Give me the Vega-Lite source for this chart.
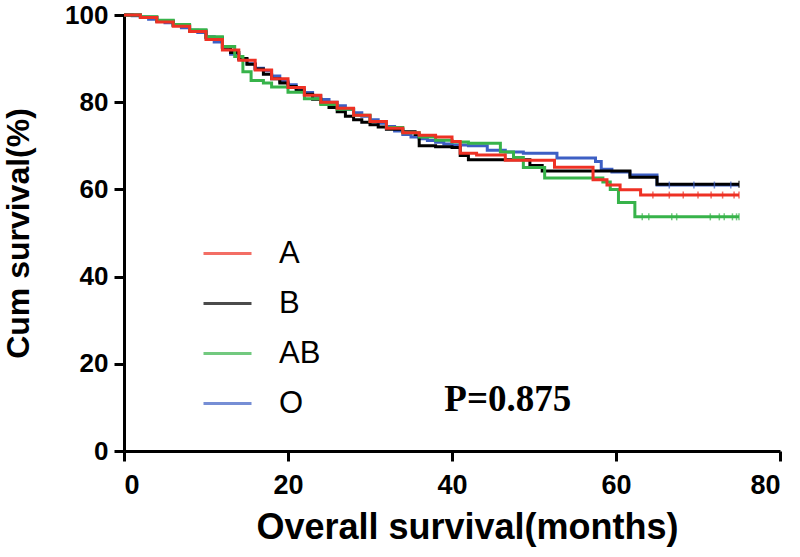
{
  "$schema": "https://vega.github.io/schema/vega-lite/v6.json",
  "autosize": "none",
  "width": 656,
  "height": 436,
  "padding": {"left": 124, "top": 15, "right": 20, "bottom": 106},
  "background": "white",
  "config": {"view": {"stroke": null}, "font": "Liberation Sans"},
  "datasets": {
    "curves": [
      {"g": "O", "m": 0, "s": 100}, {"g": "O", "m": 1, "s": 99.8}, {"g": "O", "m": 2, "s": 99.5}, {"g": "O", "m": 3, "s": 99}, {"g": "O", "m": 4, "s": 98.6}, {"g": "O", "m": 5, "s": 98.2}, {"g": "O", "m": 6, "s": 97.7}, {"g": "O", "m": 7, "s": 97.1}, {"g": "O", "m": 8, "s": 96.5}, {"g": "O", "m": 9, "s": 96}, {"g": "O", "m": 10, "s": 95}, {"g": "O", "m": 11, "s": 93.8}, {"g": "O", "m": 12, "s": 92.5}, {"g": "O", "m": 13, "s": 91}, {"g": "O", "m": 14, "s": 89.8}, {"g": "O", "m": 15, "s": 88.8}, {"g": "O", "m": 16, "s": 87.8}, {"g": "O", "m": 17, "s": 87.2}, {"g": "O", "m": 18, "s": 86}, {"g": "O", "m": 19, "s": 84.8}, {"g": "O", "m": 20, "s": 84}, {"g": "O", "m": 21, "s": 83}, {"g": "O", "m": 22, "s": 82.2}, {"g": "O", "m": 23, "s": 81.4}, {"g": "O", "m": 24, "s": 80.6}, {"g": "O", "m": 25, "s": 80}, {"g": "O", "m": 26, "s": 79.2}, {"g": "O", "m": 27, "s": 78.4}, {"g": "O", "m": 28, "s": 77.6}, {"g": "O", "m": 29, "s": 76.8}, {"g": "O", "m": 30, "s": 76}, {"g": "O", "m": 31, "s": 75.2}, {"g": "O", "m": 32, "s": 74.4}, {"g": "O", "m": 33, "s": 73.4}, {"g": "O", "m": 34, "s": 72.6}, {"g": "O", "m": 35, "s": 72}, {"g": "O", "m": 36, "s": 71.6}, {"g": "O", "m": 37, "s": 71.2}, {"g": "O", "m": 38, "s": 70.8}, {"g": "O", "m": 39, "s": 70.4}, {"g": "O", "m": 40, "s": 70.2}, {"g": "O", "m": 42, "s": 70}, {"g": "O", "m": 44.3, "s": 69}, {"g": "O", "m": 46.5, "s": 68.6}, {"g": "O", "m": 48.7, "s": 68.3}, {"g": "O", "m": 52.8, "s": 67.2}, {"g": "O", "m": 57.5, "s": 66.4}, {"g": "O", "m": 58.2, "s": 64.6}, {"g": "O", "m": 59.5, "s": 64}, {"g": "O", "m": 61.7, "s": 63.3}, {"g": "O", "m": 65, "s": 61}, {"g": "O", "m": 75, "s": 61},

      {"g": "B", "m": 0, "s": 100}, {"g": "B", "m": 2, "s": 99.5}, {"g": "B", "m": 4, "s": 98.6}, {"g": "B", "m": 6, "s": 97.6}, {"g": "B", "m": 8, "s": 96.4}, {"g": "B", "m": 10, "s": 94.8}, {"g": "B", "m": 12, "s": 92.6}, {"g": "B", "m": 13, "s": 91.4}, {"g": "B", "m": 14, "s": 90}, {"g": "B", "m": 15, "s": 88.7}, {"g": "B", "m": 16, "s": 87.6}, {"g": "B", "m": 17, "s": 86.4}, {"g": "B", "m": 18, "s": 85.4}, {"g": "B", "m": 19, "s": 84.4}, {"g": "B", "m": 20, "s": 83.6}, {"g": "B", "m": 21, "s": 82.6}, {"g": "B", "m": 22, "s": 81.8}, {"g": "B", "m": 23, "s": 80.7}, {"g": "B", "m": 24, "s": 79.8}, {"g": "B", "m": 25, "s": 78.8}, {"g": "B", "m": 26, "s": 77.8}, {"g": "B", "m": 27, "s": 76.8}, {"g": "B", "m": 28, "s": 76}, {"g": "B", "m": 29, "s": 75.4}, {"g": "B", "m": 30, "s": 74.8}, {"g": "B", "m": 31, "s": 74.3}, {"g": "B", "m": 32, "s": 73.8}, {"g": "B", "m": 34, "s": 73.2}, {"g": "B", "m": 35.5, "s": 72.6}, {"g": "B", "m": 36, "s": 70}, {"g": "B", "m": 38, "s": 69.8}, {"g": "B", "m": 40, "s": 69.6}, {"g": "B", "m": 41, "s": 67.8}, {"g": "B", "m": 42, "s": 66.8}, {"g": "B", "m": 49.5, "s": 65.5}, {"g": "B", "m": 51, "s": 64.2}, {"g": "B", "m": 61.7, "s": 62.8}, {"g": "B", "m": 65, "s": 61.2}, {"g": "B", "m": 75, "s": 61.2},

      {"g": "AB", "m": 0, "s": 100}, {"g": "AB", "m": 2, "s": 99.6}, {"g": "AB", "m": 4, "s": 98.8}, {"g": "AB", "m": 6, "s": 97.8}, {"g": "AB", "m": 8, "s": 96.6}, {"g": "AB", "m": 10, "s": 95}, {"g": "AB", "m": 12, "s": 92.8}, {"g": "AB", "m": 13.5, "s": 90.5}, {"g": "AB", "m": 14.5, "s": 87}, {"g": "AB", "m": 15.5, "s": 85}, {"g": "AB", "m": 17, "s": 84.4}, {"g": "AB", "m": 18, "s": 83.5}, {"g": "AB", "m": 20, "s": 82.3}, {"g": "AB", "m": 22, "s": 80.8}, {"g": "AB", "m": 24, "s": 79.5}, {"g": "AB", "m": 26, "s": 78.4}, {"g": "AB", "m": 28, "s": 77}, {"g": "AB", "m": 30, "s": 75.6}, {"g": "AB", "m": 32, "s": 74.2}, {"g": "AB", "m": 34, "s": 73}, {"g": "AB", "m": 36, "s": 72}, {"g": "AB", "m": 38, "s": 71.3}, {"g": "AB", "m": 40, "s": 70.9}, {"g": "AB", "m": 42, "s": 70.6}, {"g": "AB", "m": 45.9, "s": 68.6}, {"g": "AB", "m": 47.5, "s": 67.3}, {"g": "AB", "m": 48.7, "s": 65}, {"g": "AB", "m": 51.3, "s": 62.6}, {"g": "AB", "m": 58.4, "s": 61.7}, {"g": "AB", "m": 59.3, "s": 60}, {"g": "AB", "m": 60.3, "s": 57}, {"g": "AB", "m": 62.3, "s": 53.7}, {"g": "AB", "m": 75, "s": 53.7},

      {"g": "A", "m": 0, "s": 100}, {"g": "A", "m": 2, "s": 99.4}, {"g": "A", "m": 4, "s": 98.4}, {"g": "A", "m": 6, "s": 97.4}, {"g": "A", "m": 8, "s": 96.2}, {"g": "A", "m": 10, "s": 94.4}, {"g": "A", "m": 12, "s": 92}, {"g": "A", "m": 14, "s": 89.6}, {"g": "A", "m": 16, "s": 87.4}, {"g": "A", "m": 18, "s": 85.4}, {"g": "A", "m": 20, "s": 83.4}, {"g": "A", "m": 22, "s": 81.6}, {"g": "A", "m": 24, "s": 80}, {"g": "A", "m": 26, "s": 78.6}, {"g": "A", "m": 28, "s": 77}, {"g": "A", "m": 30, "s": 75.6}, {"g": "A", "m": 32, "s": 74}, {"g": "A", "m": 34, "s": 73}, {"g": "A", "m": 36, "s": 72.4}, {"g": "A", "m": 38, "s": 72}, {"g": "A", "m": 40, "s": 71}, {"g": "A", "m": 41, "s": 68.3}, {"g": "A", "m": 43, "s": 67.9}, {"g": "A", "m": 46.5, "s": 66.7}, {"g": "A", "m": 52.5, "s": 65.1}, {"g": "A", "m": 57.2, "s": 62.2}, {"g": "A", "m": 58.9, "s": 61}, {"g": "A", "m": 60.5, "s": 59.9}, {"g": "A", "m": 63, "s": 58.7}, {"g": "A", "m": 75, "s": 58.7}
    ],
    "censor": [
      {"g": "AB", "m": 63.2, "s": 53.7}, {"g": "AB", "m": 64.0, "s": 53.7}, {"g": "AB", "m": 66.8, "s": 53.7}, {"g": "AB", "m": 67.4, "s": 53.7}, {"g": "AB", "m": 71.5, "s": 53.7}, {"g": "AB", "m": 72.6, "s": 53.7}, {"g": "AB", "m": 73.2, "s": 53.7}, {"g": "AB", "m": 74.2, "s": 53.7}, {"g": "AB", "m": 74.7, "s": 53.7}, {"g": "AB", "m": 75, "s": 53.7},
      {"g": "A", "m": 64.5, "s": 58.7}, {"g": "A", "m": 66.5, "s": 58.7}, {"g": "A", "m": 68.2, "s": 58.7}, {"g": "A", "m": 70.0, "s": 58.7}, {"g": "A", "m": 71.6, "s": 58.7}, {"g": "A", "m": 73.0, "s": 58.7}, {"g": "A", "m": 74.4, "s": 58.7}, {"g": "A", "m": 75, "s": 58.7},
      {"g": "O", "m": 66.5, "s": 61}, {"g": "O", "m": 69.5, "s": 61}, {"g": "O", "m": 72.0, "s": 61}, {"g": "O", "m": 74.0, "s": 61},
      {"g": "B", "m": 75, "s": 61.2}
    ],
    "note": [{"m": 46.8, "s": 11.7, "t": "P=0.875"}]
  },
  "layer": [
    {
      "data": {"name": "curves"},
      "mark": {"type": "line", "interpolate": "step-after", "strokeWidth": 3},
      "encoding": {
        "x": {
          "field": "m", "type": "quantitative",
          "scale": {"domain": [0, 80], "nice": false},
          "axis": {
            "values": [0, 20, 40, 60, 80], "grid": false,
            "title": "Overall survival(months)",
            "domainColor": "black", "domainWidth": 3, "tickColor": "black", "tickWidth": 3, "tickSize": 10,
            "labelFont": "Liberation Sans", "labelFontWeight": "bold", "labelFontSize": 27, "labelColor": "black", "labelPadding": 11,
            "titleFont": "Liberation Sans", "titleFontWeight": "bold", "titleFontSize": 36, "titleColor": "black",
            "titleX": 343, "titleY": 76, "titleBaseline": "middle", "titleAlign": "center"
          }
        },
        "y": {
          "field": "s", "type": "quantitative",
          "scale": {"domain": [0, 100], "nice": false},
          "axis": {
            "values": [0, 20, 40, 60, 80, 100], "grid": false,
            "title": "Cum survival(%)",
            "domainColor": "black", "domainWidth": 3, "tickColor": "black", "tickWidth": 3, "tickSize": 10,
            "labelFont": "Liberation Sans", "labelFontWeight": "bold", "labelFontSize": 26, "labelColor": "black", "labelPadding": 6,
            "titleFont": "Liberation Sans", "titleFontWeight": "bold", "titleFontSize": 32, "titleColor": "black",
            "titleX": -106, "titleY": 218, "titleBaseline": "middle", "titleAlign": "center", "titleAngle": -90
          }
        },
        "color": {
          "field": "g", "type": "nominal",
          "scale": {"domain": ["A", "B", "AB", "O"], "range": ["#ee3124", "#000000", "#37b34a", "#3d5fc4"]},
          "legend": {
            "orient": "none", "legendX": 78, "legendY": 213, "title": null, "padding": 0,
            "symbolType": "stroke", "symbolSize": 2304, "symbolStrokeWidth": 3, "symbolOpacity": 1,
            "labelFont": "Liberation Sans", "labelFontSize": 31, "labelColor": "black", "labelOffset": 26,
            "rowPadding": 9
          }
        }
      }
    },
    {
      "data": {"name": "censor"},
      "mark": {"type": "tick", "orient": "vertical", "size": 7, "thickness": 1.5},
      "encoding": {
        "x": {"field": "m", "type": "quantitative"},
        "y": {"field": "s", "type": "quantitative"},
        "color": {"field": "g", "type": "nominal"}
      }
    },
    {
      "data": {"name": "note"},
      "mark": {"type": "text", "font": "Liberation Serif", "fontWeight": "bold", "fontSize": 37, "color": "black", "align": "center", "baseline": "middle"},
      "encoding": {
        "x": {"field": "m", "type": "quantitative"},
        "y": {"field": "s", "type": "quantitative"},
        "text": {"field": "t"}
      }
    }
  ]
}
